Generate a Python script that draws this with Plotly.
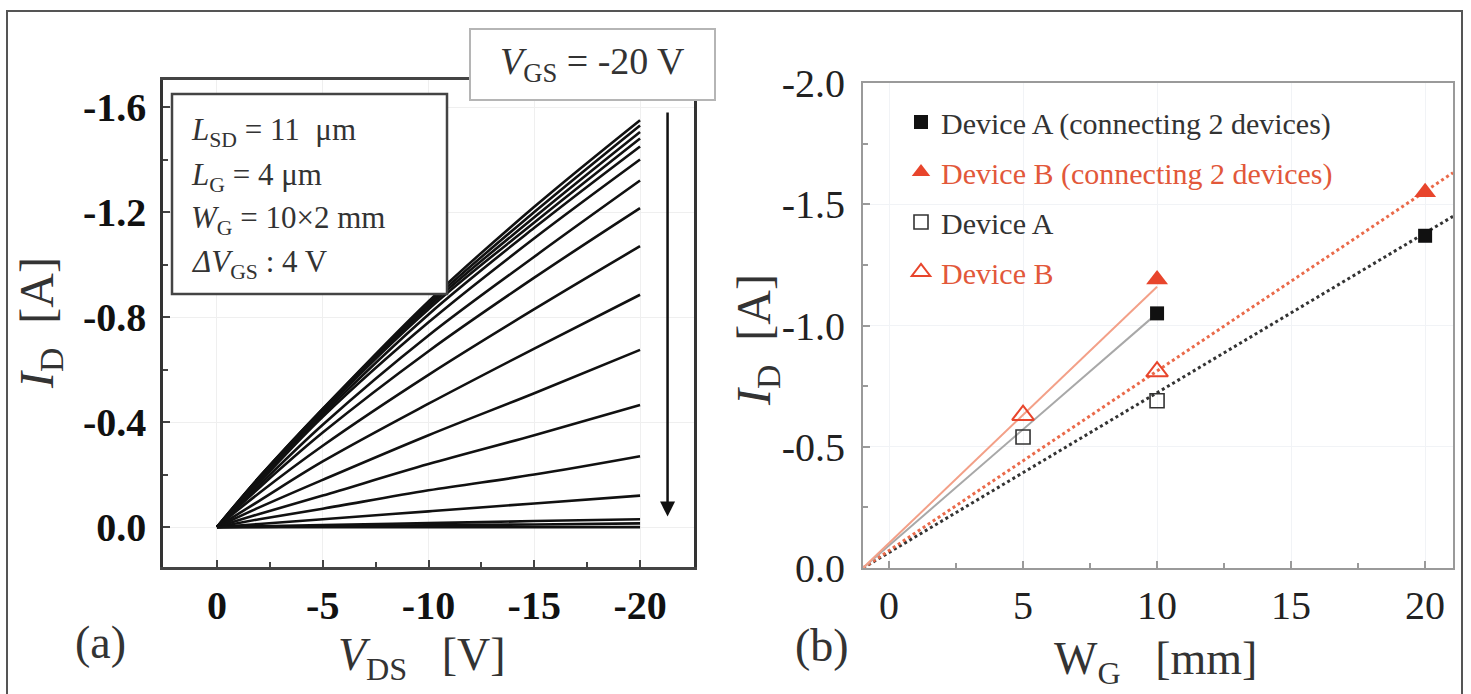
import plotly.graph_objects as go

W, H = 1471, 694

# ---------------- Panel (a): ID-VDS curves ----------------
vds = [0, -2, -5, -10, -15, -20]
vgs_steps = [-20, -16, -12, -8, -4, 0, 4, 8, 12, 16, 20, 24, 28, 32, 36, 40, 44]
id_curves = [
    [0, -0.19, -0.45, -0.86, -1.22, -1.55],
    [0, -0.19, -0.45, -0.85, -1.20, -1.53],
    [0, -0.19, -0.44, -0.84, -1.18, -1.505],
    [0, -0.18, -0.44, -0.83, -1.16, -1.48],
    [0, -0.18, -0.43, -0.81, -1.14, -1.45],
    [0, -0.17, -0.42, -0.78, -1.10, -1.40],
    [0, -0.16, -0.39, -0.73, -1.03, -1.32],
    [0, -0.15, -0.36, -0.67, -0.95, -1.215],
    [0, -0.13, -0.31, -0.58, -0.83, -1.07],
    [0, -0.10, -0.25, -0.47, -0.68, -0.885],
    [0, -0.075, -0.18, -0.35, -0.51, -0.675],
    [0, -0.05, -0.12, -0.24, -0.35, -0.465],
    [0, -0.03, -0.07, -0.14, -0.20, -0.27],
    [0, -0.012, -0.03, -0.06, -0.09, -0.12],
    [0, -0.003, -0.008, -0.015, -0.023, -0.03],
    [0, -0.001, -0.003, -0.007, -0.010, -0.014],
    [0, 0, 0, 0, 0, 0],
]
a_xtickvals = [0, -5, -10, -15, -20]
a_xticktext = ["0", "-5", "-10", "-15", "-20"]
a_ytickvals = [-1.6, -1.2, -0.8, -0.4, 0.0]
a_yticktext = ["-1.6", "-1.2", "-0.8", "-0.4", "0.0"]

# ---------------- Panel (b): ID vs WG ----------------
wg_single = [5, 10]
devA_single = [-0.54, -0.69]
devB_single = [-0.63, -0.81]
wg_conn = [10, 20]
devA_conn = [-1.05, -1.37]
devB_conn = [-1.19, -1.55]
solid_x = [-0.97, 10]
solidA_y = [0, -1.05]
solidB_y = [0, -1.16]
fit_x = [-0.97, 21.04]
fitA_y = [0, -1.45]
fitB_y = [0, -1.63]
b_xtickvals = [0, 5, 10, 15, 20]
b_xticktext = ["0", "5", "10", "15", "20"]
b_ytickvals = [-2.0, -1.5, -1.0, -0.5, 0.0]
b_yticktext = ["-2.0", "-1.5", "-1.0", "-0.5", "0.0"]

RED = "#e8452c"
RED_TXT = "#e2583a"
SERIF = "Liberation Serif"


def px(x):
    return x / W


def py(y):
    return 1 - y / H


fig = go.Figure()

for v, cur in zip(vgs_steps, id_curves):
    fig.add_trace(go.Scatter(x=vds, y=cur, mode="lines", name=f"VGS={v} V",
                             line=dict(color="#111111", width=2.6, shape="spline"),
                             showlegend=False, xaxis="x", yaxis="y"))

# panel (b) lines
fig.add_trace(go.Scatter(x=fit_x, y=fitA_y, mode="lines", showlegend=False,
                         line=dict(color="#333333", width=3, dash="dot"), xaxis="x2", yaxis="y2"))
fig.add_trace(go.Scatter(x=fit_x, y=fitB_y, mode="lines", showlegend=False,
                         line=dict(color="#ea6a4a", width=3, dash="dot"), xaxis="x2", yaxis="y2"))
fig.add_trace(go.Scatter(x=solid_x, y=solidA_y, mode="lines", showlegend=False,
                         line=dict(color="#a8a8a8", width=2), xaxis="x2", yaxis="y2"))
fig.add_trace(go.Scatter(x=solid_x, y=solidB_y, mode="lines", showlegend=False,
                         line=dict(color="#f3a088", width=2), xaxis="x2", yaxis="y2"))

# panel (b) markers
fig.add_trace(go.Scatter(x=wg_conn, y=devA_conn, mode="markers", legendgroup="a1",
                         name="Device A (connecting 2 devices)",
                         marker=dict(symbol="square", size=14, color="#111111"),
                         xaxis="x2", yaxis="y2"))
fig.add_trace(go.Scatter(x=wg_conn, y=devB_conn, mode="markers", legendgroup="b1",
                         name=f'<span style="color:{RED_TXT}">Device B (connecting 2 devices)</span>',
                         marker=dict(symbol="triangle-up", size=19, color=RED),
                         xaxis="x2", yaxis="y2"))
fig.add_trace(go.Scatter(x=wg_single, y=devA_single, mode="markers", legendgroup="a2",
                         name="Device A",
                         marker=dict(symbol="square-open", size=14, color="#333333",
                                     line=dict(width=1.6)),
                         xaxis="x2", yaxis="y2"))
fig.add_trace(go.Scatter(x=wg_single, y=devB_single, mode="markers", legendgroup="b2",
                         name=f'<span style="color:{RED_TXT}">Device B</span>',
                         marker=dict(symbol="triangle-up-open", size=19, color=RED,
                                     line=dict(width=2)),
                         xaxis="x2", yaxis="y2"))

axis_common = dict(showline=True, mirror=True, ticks="inside", ticklen=7,
                   showgrid=True, zeroline=False, tickmode="array", automargin=False)

fig.update_layout(
    template="none",
    width=W, height=H,
    margin=dict(l=0, r=0, t=0, b=0, pad=0, autoexpand=False),
    paper_bgcolor="white", plot_bgcolor="white",
    font=dict(family=SERIF, color="#222222"),
    xaxis=dict(domain=[px(163), px(694)], range=[2.55, -22.55],
               tickvals=a_xtickvals, ticktext=a_xticktext,
               linecolor="#444444", linewidth=2.5, tickcolor="#444444", tickwidth=2,
               gridcolor="#efefef", ticklabelstandoff=1,
               tickfont=dict(family=SERIF, size=40, color="#111111", weight="bold"),
               minor=dict(ticks="inside", ticklen=5, tickvals=[-2.5, -7.5, -12.5, -17.5],
                          tickcolor="#444444", showgrid=False),
               anchor="y", **axis_common),
    yaxis=dict(domain=[py(567), py(80)], range=[0.152, -1.703],
               tickvals=a_ytickvals, ticktext=a_yticktext,
               linecolor="#333333", linewidth=2.5, tickcolor="#444444", tickwidth=2,
               gridcolor="#efefef", ticklabelstandoff=6,
               tickfont=dict(family=SERIF, size=40, color="#111111", weight="bold"),
               minor=dict(ticks="inside", ticklen=5, tickvals=[-1.4, -1.0, -0.6, -0.2],
                          tickcolor="#444444", showgrid=False),
               anchor="x", **axis_common),
    xaxis2=dict(domain=[px(863), px(1453)], range=[-0.97, 21.04],
                tickvals=b_xtickvals, ticktext=b_xticktext,
                linecolor="#9a9a9a", linewidth=2, tickcolor="#9a9a9a", tickwidth=1.5,
                gridcolor="#f1f3f6", ticklabelstandoff=1,
                tickfont=dict(family=SERIF, size=40, color="#222222"),
                minor=dict(ticks="inside", ticklen=5, tickvals=[2.5, 7.5, 12.5, 17.5],
                           tickcolor="#9a9a9a", showgrid=False),
                anchor="y2", **axis_common),
    yaxis2=dict(domain=[py(568), py(83)], range=[0, -2.0],
                tickvals=b_ytickvals, ticktext=b_yticktext,
                linecolor="#9a9a9a", linewidth=2, tickcolor="#9a9a9a", tickwidth=1.5,
                gridcolor="#f1f3f6", ticklabelstandoff=8,
                tickfont=dict(family=SERIF, size=40, color="#222222"),
                minor=dict(ticks="inside", ticklen=5, tickvals=[-1.75, -1.25, -0.75, -0.25],
                           tickcolor="#9a9a9a", showgrid=False),
                anchor="x2", **axis_common),
    legend=dict(x=px(901), y=py(96), xanchor="left", yanchor="top",
                bgcolor="rgba(0,0,0,0)", font=dict(family=SERIF, size=30, color="#333333"),
                tracegroupgap=8, itemsizing="trace"),
)

# Shapes: outer frame, parameter box, VGS box
fig.add_shape(type="rect", xref="paper", yref="paper",
              x0=px(7), x1=px(1462), y0=py(720), y1=py(11),
              line=dict(color="#555555", width=2), layer="above")
fig.add_shape(type="rect", xref="paper", yref="paper",
              x0=px(172), x1=px(447), y0=py(294), y1=py(94),
              line=dict(color="#444444", width=2.5), fillcolor="white", layer="above")
fig.add_shape(type="rect", xref="paper", yref="paper",
              x0=px(470), x1=px(715), y0=py(100), y1=py(29),
              line=dict(color="#b5b5b5", width=2), fillcolor="white", layer="above")

ann = []
def txt(x, y, text, size, xanchor="center", yanchor="middle", color="#222222", angle=0):
    ann.append(dict(x=px(x), y=py(y), xref="paper", yref="paper", text=text,
                    showarrow=False, xanchor=xanchor, yanchor=yanchor, textangle=angle,
                    font=dict(family=SERIF, size=size, color=color)))

txt(189, 132, "<i>L</i><sub>SD</sub> = 11  μm", 31, xanchor="left", color="#333333")
txt(189, 177, "<i>L</i><sub>G</sub> = 4 μm", 31, xanchor="left", color="#333333")
txt(189, 220, "<i>W</i><sub>G</sub> = 10×2 mm", 31, xanchor="left", color="#333333")
txt(189, 264, "<i>ΔV</i><sub>GS</sub> : 4 V", 31, xanchor="left", color="#333333")
txt(592, 64, "<i>V</i><sub>GS</sub> = -20 V", 38, color="#333333")

txt(40, 323, "<i>I</i><sub>D</sub>  [A]", 48, angle=-90, color="#333333")
txt(422, 658, "<i>V</i><sub>DS</sub>   [V]", 46, color="#333333")
txt(100, 642, "(a)", 46, color="#333333")
txt(757, 340, "<i>I</i><sub>D</sub>  [A]", 48, angle=-90, color="#333333")
txt(1155, 662, "W<sub>G</sub>   [mm]", 46, color="#333333")
txt(822, 645, "(b)", 46, color="#333333")

# arrow showing decreasing VGS
ann.append(dict(x=-21.3, y=-0.04, ax=-21.3, ay=-1.585, xref="x", yref="y",
                axref="x", ayref="y", showarrow=True, arrowhead=2, arrowsize=1.2,
                arrowwidth=2.5, arrowcolor="#111111", text=""))

fig.update_layout(annotations=ann)

fig.write_html("out.html", config={"displayModeBar": False},
               post_script="document.body.style.margin='0';document.body.style.overflow='hidden';")
